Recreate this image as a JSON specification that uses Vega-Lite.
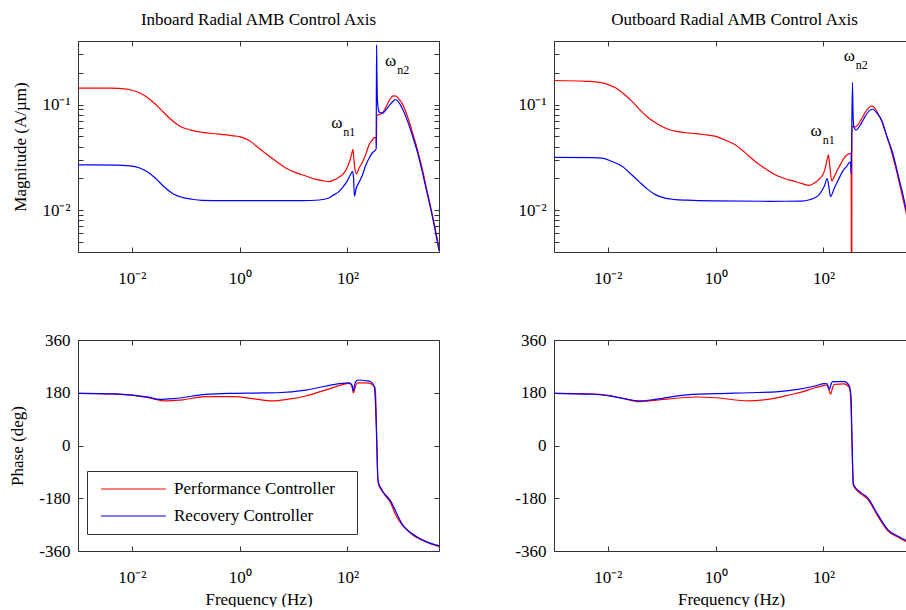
{
"$schema":"https://vega.github.io/schema/vega-lite/v6.json",
"background":"white",
"autosize":{"type":"pad"},
"padding":{"left":8,"top":11,"right":0,"bottom":0},
"datasets":{
"inMag":[
{"f":0.001,"s":"Performance Controller","v":0.143},{"f":0.004,"s":"Performance Controller","v":0.143},{"f":0.008,"s":"Performance Controller","v":0.140},{"f":0.012,"s":"Performance Controller","v":0.133},{"f":0.018,"s":"Performance Controller","v":0.120},{"f":0.025,"s":"Performance Controller","v":0.105},{"f":0.035,"s":"Performance Controller","v":0.089},{"f":0.05,"s":"Performance Controller","v":0.074},{"f":0.075,"s":"Performance Controller","v":0.063},{"f":0.12,"s":"Performance Controller","v":0.0575},{"f":0.2,"s":"Performance Controller","v":0.0545},{"f":0.4,"s":"Performance Controller","v":0.0525},{"f":0.7,"s":"Performance Controller","v":0.0508},{"f":1.0,"s":"Performance Controller","v":0.0496},{"f":1.5,"s":"Performance Controller","v":0.0455},{"f":2.0,"s":"Performance Controller","v":0.0407},{"f":3.0,"s":"Performance Controller","v":0.0345},{"f":4.6,"s":"Performance Controller","v":0.0293},{"f":7,"s":"Performance Controller","v":0.0252},{"f":11,"s":"Performance Controller","v":0.0226},{"f":17,"s":"Performance Controller","v":0.021},{"f":25,"s":"Performance Controller","v":0.0196},{"f":35,"s":"Performance Controller","v":0.019},{"f":46,"s":"Performance Controller","v":0.0186},{"f":53,"s":"Performance Controller","v":0.019},{"f":70,"s":"Performance Controller","v":0.0205},{"f":93,"s":"Performance Controller","v":0.0237},{"f":110,"s":"Performance Controller","v":0.029},{"f":120,"s":"Performance Controller","v":0.034},{"f":127,"s":"Performance Controller","v":0.0375},{"f":131,"s":"Performance Controller","v":0.031},{"f":137,"s":"Performance Controller","v":0.025},{"f":147,"s":"Performance Controller","v":0.022},{"f":165,"s":"Performance Controller","v":0.025},{"f":190,"s":"Performance Controller","v":0.0284},{"f":220,"s":"Performance Controller","v":0.034},{"f":252,"s":"Performance Controller","v":0.0416},{"f":290,"s":"Performance Controller","v":0.046},{"f":312,"s":"Performance Controller","v":0.0485},{"f":340,"s":"Performance Controller","v":0.0488},{"f":345,"s":"Performance Controller","v":0.041},{"f":350,"s":"Performance Controller","v":0.079},{"f":387,"s":"Performance Controller","v":0.0803},{"f":445,"s":"Performance Controller","v":0.083},{"f":520,"s":"Performance Controller","v":0.095},{"f":600,"s":"Performance Controller","v":0.11},{"f":711,"s":"Performance Controller","v":0.121},{"f":800,"s":"Performance Controller","v":0.12},{"f":900,"s":"Performance Controller","v":0.113},{"f":1044,"s":"Performance Controller","v":0.102},{"f":1300,"s":"Performance Controller","v":0.077},{"f":1600,"s":"Performance Controller","v":0.055},{"f":2000,"s":"Performance Controller","v":0.037},{"f":2450,"s":"Performance Controller","v":0.0245},{"f":3000,"s":"Performance Controller","v":0.0152},{"f":3750,"s":"Performance Controller","v":0.0091},{"f":5000,"s":"Performance Controller","v":0.0044},
{"f":0.001,"s":"Recovery Controller","v":0.0268},{"f":0.005,"s":"Recovery Controller","v":0.0266},{"f":0.009,"s":"Recovery Controller","v":0.0262},{"f":0.014,"s":"Recovery Controller","v":0.025},{"f":0.02,"s":"Recovery Controller","v":0.0228},{"f":0.028,"s":"Recovery Controller","v":0.0198},{"f":0.04,"s":"Recovery Controller","v":0.0165},{"f":0.06,"s":"Recovery Controller","v":0.0141},{"f":0.09,"s":"Recovery Controller","v":0.0131},{"f":0.13,"s":"Recovery Controller","v":0.01265},{"f":0.2,"s":"Recovery Controller","v":0.01236},{"f":0.5,"s":"Recovery Controller","v":0.0123},{"f":1,"s":"Recovery Controller","v":0.0123},{"f":5,"s":"Recovery Controller","v":0.0123},{"f":15,"s":"Recovery Controller","v":0.0123},{"f":30,"s":"Recovery Controller","v":0.01245},{"f":45,"s":"Recovery Controller","v":0.013},{"f":53,"s":"Recovery Controller","v":0.0137},{"f":70,"s":"Recovery Controller","v":0.015},{"f":81,"s":"Recovery Controller","v":0.0163},{"f":100,"s":"Recovery Controller","v":0.019},{"f":113,"s":"Recovery Controller","v":0.0215},{"f":124,"s":"Recovery Controller","v":0.0232},{"f":130,"s":"Recovery Controller","v":0.02},{"f":135,"s":"Recovery Controller","v":0.0135},{"f":145,"s":"Recovery Controller","v":0.016},{"f":165,"s":"Recovery Controller","v":0.0184},{"f":190,"s":"Recovery Controller","v":0.0215},{"f":218,"s":"Recovery Controller","v":0.0264},{"f":252,"s":"Recovery Controller","v":0.031},{"f":290,"s":"Recovery Controller","v":0.0349},{"f":326,"s":"Recovery Controller","v":0.0367},{"f":341,"s":"Recovery Controller","v":0.038},{"f":347,"s":"Recovery Controller","v":0.367},{"f":352,"s":"Recovery Controller","v":0.2},{"f":360,"s":"Recovery Controller","v":0.11},{"f":375,"s":"Recovery Controller","v":0.09},{"f":387,"s":"Recovery Controller","v":0.085},{"f":445,"s":"Recovery Controller","v":0.0827},{"f":520,"s":"Recovery Controller","v":0.089},{"f":600,"s":"Recovery Controller","v":0.098},{"f":711,"s":"Recovery Controller","v":0.108},{"f":780,"s":"Recovery Controller","v":0.1116},{"f":900,"s":"Recovery Controller","v":0.105},{"f":1044,"s":"Recovery Controller","v":0.0916},{"f":1300,"s":"Recovery Controller","v":0.07},{"f":1600,"s":"Recovery Controller","v":0.051},{"f":2000,"s":"Recovery Controller","v":0.035},{"f":2450,"s":"Recovery Controller","v":0.0229},{"f":3000,"s":"Recovery Controller","v":0.0145},{"f":3750,"s":"Recovery Controller","v":0.0088},{"f":5000,"s":"Recovery Controller","v":0.0041}],
"outMag":[
{"f":0.001,"s":"Performance Controller","v":0.169},{"f":0.004,"s":"Performance Controller","v":0.166},{"f":0.0059,"s":"Performance Controller","v":0.164},{"f":0.009,"s":"Performance Controller","v":0.158},{"f":0.0138,"s":"Performance Controller","v":0.144},{"f":0.02,"s":"Performance Controller","v":0.125},{"f":0.0281,"s":"Performance Controller","v":0.107},{"f":0.04,"s":"Performance Controller","v":0.088},{"f":0.0571,"s":"Performance Controller","v":0.0746},{"f":0.09,"s":"Performance Controller","v":0.064},{"f":0.134,"s":"Performance Controller","v":0.058},{"f":0.2,"s":"Performance Controller","v":0.0553},{"f":0.313,"s":"Performance Controller","v":0.0537},{"f":0.6,"s":"Performance Controller","v":0.052},{"f":0.97,"s":"Performance Controller","v":0.0501},{"f":1.5,"s":"Performance Controller","v":0.046},{"f":2.27,"s":"Performance Controller","v":0.0417},{"f":3.5,"s":"Performance Controller","v":0.035},{"f":5.32,"s":"Performance Controller","v":0.029},{"f":8,"s":"Performance Controller","v":0.025},{"f":12.4,"s":"Performance Controller","v":0.0217},{"f":20,"s":"Performance Controller","v":0.0197},{"f":29.1,"s":"Performance Controller","v":0.0187},{"f":38.7,"s":"Performance Controller","v":0.0179},{"f":55,"s":"Performance Controller","v":0.0171},{"f":70,"s":"Performance Controller","v":0.0182},{"f":85,"s":"Performance Controller","v":0.0198},{"f":104,"s":"Performance Controller","v":0.0234},{"f":117,"s":"Performance Controller","v":0.03},{"f":124,"s":"Performance Controller","v":0.0333},{"f":130,"s":"Performance Controller","v":0.027},{"f":143,"s":"Performance Controller","v":0.0188},{"f":160,"s":"Performance Controller","v":0.021},{"f":184,"s":"Performance Controller","v":0.0243},{"f":215,"s":"Performance Controller","v":0.028},{"f":244,"s":"Performance Controller","v":0.0314},{"f":290,"s":"Performance Controller","v":0.034},{"f":318,"s":"Performance Controller","v":0.0345},{"f":326,"s":"Performance Controller","v":0.034},{"f":333,"s":"Performance Controller","v":0.0001},{"f":337,"s":"Performance Controller","v":0.0626},{"f":360,"s":"Performance Controller","v":0.0615},{"f":402,"s":"Performance Controller","v":0.0618},{"f":500,"s":"Performance Controller","v":0.072},{"f":600,"s":"Performance Controller","v":0.085},{"f":700,"s":"Performance Controller","v":0.094},{"f":783,"s":"Performance Controller","v":0.097},{"f":900,"s":"Performance Controller","v":0.092},{"f":1000,"s":"Performance Controller","v":0.084},{"f":1164,"s":"Performance Controller","v":0.0726},{"f":1400,"s":"Performance Controller","v":0.055},{"f":1778,"s":"Performance Controller","v":0.0377},{"f":2200,"s":"Performance Controller","v":0.025},{"f":2725,"s":"Performance Controller","v":0.0157},{"f":3513,"s":"Performance Controller","v":0.0088},{"f":5000,"s":"Performance Controller","v":0.0042},
{"f":0.001,"s":"Recovery Controller","v":0.0316},{"f":0.005,"s":"Recovery Controller","v":0.0314},{"f":0.00785,"s":"Recovery Controller","v":0.0311},{"f":0.012,"s":"Recovery Controller","v":0.0288},{"f":0.0184,"s":"Recovery Controller","v":0.026},{"f":0.026,"s":"Recovery Controller","v":0.0222},{"f":0.0374,"s":"Recovery Controller","v":0.0187},{"f":0.055,"s":"Recovery Controller","v":0.0157},{"f":0.0757,"s":"Recovery Controller","v":0.014},{"f":0.12,"s":"Recovery Controller","v":0.0129},{"f":0.177,"s":"Recovery Controller","v":0.01256},{"f":0.3,"s":"Recovery Controller","v":0.0124},{"f":0.48,"s":"Recovery Controller","v":0.0123},{"f":1,"s":"Recovery Controller","v":0.0122},{"f":10,"s":"Recovery Controller","v":0.0121},{"f":38.7,"s":"Recovery Controller","v":0.01216},{"f":55,"s":"Recovery Controller","v":0.0125},{"f":78.8,"s":"Recovery Controller","v":0.0136},{"f":95,"s":"Recovery Controller","v":0.0155},{"f":104,"s":"Recovery Controller","v":0.0169},{"f":117,"s":"Recovery Controller","v":0.0199},{"f":125,"s":"Recovery Controller","v":0.017},{"f":135,"s":"Recovery Controller","v":0.0134},{"f":160,"s":"Recovery Controller","v":0.0163},{"f":190,"s":"Recovery Controller","v":0.0195},{"f":228,"s":"Recovery Controller","v":0.0234},{"f":270,"s":"Recovery Controller","v":0.026},{"f":302,"s":"Recovery Controller","v":0.0282},{"f":318,"s":"Recovery Controller","v":0.0285},{"f":326,"s":"Recovery Controller","v":0.0218},{"f":345,"s":"Recovery Controller","v":0.162},{"f":352,"s":"Recovery Controller","v":0.09},{"f":365,"s":"Recovery Controller","v":0.062},{"f":402,"s":"Recovery Controller","v":0.0574},{"f":500,"s":"Recovery Controller","v":0.066},{"f":600,"s":"Recovery Controller","v":0.078},{"f":700,"s":"Recovery Controller","v":0.087},{"f":817,"s":"Recovery Controller","v":0.0902},{"f":1000,"s":"Recovery Controller","v":0.082},{"f":1250,"s":"Recovery Controller","v":0.0675},{"f":1500,"s":"Recovery Controller","v":0.05},{"f":1914,"s":"Recovery Controller","v":0.0351},{"f":2400,"s":"Recovery Controller","v":0.022},{"f":2924,"s":"Recovery Controller","v":0.0146},{"f":3513,"s":"Recovery Controller","v":0.0095},{"f":5000,"s":"Recovery Controller","v":0.0045}],
"inPh":[
{"f":0.001,"s":"Performance Controller","v":178},{"f":0.004,"s":"Performance Controller","v":176},{"f":0.01,"s":"Performance Controller","v":172},{"f":0.02,"s":"Performance Controller","v":163},{"f":0.0432,"s":"Performance Controller","v":152},{"f":0.08,"s":"Performance Controller","v":155},{"f":0.236,"s":"Performance Controller","v":166.5},{"f":0.74,"s":"Performance Controller","v":166.5},{"f":2.0,"s":"Performance Controller","v":158},{"f":4.0,"s":"Performance Controller","v":152},{"f":8,"s":"Performance Controller","v":158},{"f":16.9,"s":"Performance Controller","v":169},{"f":40,"s":"Performance Controller","v":190},{"f":81,"s":"Performance Controller","v":208},{"f":107,"s":"Performance Controller","v":212},{"f":120,"s":"Performance Controller","v":205},{"f":129,"s":"Performance Controller","v":180},{"f":140,"s":"Performance Controller","v":200},{"f":152,"s":"Performance Controller","v":214},{"f":200,"s":"Performance Controller","v":214},{"f":252,"s":"Performance Controller","v":212.6},{"f":300,"s":"Performance Controller","v":205},{"f":326,"s":"Performance Controller","v":197},{"f":338,"s":"Performance Controller","v":140},{"f":350,"s":"Performance Controller","v":20},{"f":365,"s":"Performance Controller","v":-110},{"f":380,"s":"Performance Controller","v":-135},{"f":414,"s":"Performance Controller","v":-148},{"f":500,"s":"Performance Controller","v":-170},{"f":630,"s":"Performance Controller","v":-195},{"f":800,"s":"Performance Controller","v":-240},{"f":1044,"s":"Performance Controller","v":-272},{"f":1400,"s":"Performance Controller","v":-295},{"f":1842,"s":"Performance Controller","v":-312},{"f":2800,"s":"Performance Controller","v":-328},{"f":5000,"s":"Performance Controller","v":-345},
{"f":0.001,"s":"Recovery Controller","v":178},{"f":0.005,"s":"Recovery Controller","v":176},{"f":0.01,"s":"Recovery Controller","v":172},{"f":0.02,"s":"Recovery Controller","v":165},{"f":0.0326,"s":"Recovery Controller","v":157.5},{"f":0.06,"s":"Recovery Controller","v":160},{"f":0.236,"s":"Recovery Controller","v":174.5},{"f":0.74,"s":"Recovery Controller","v":178},{"f":2.0,"s":"Recovery Controller","v":179},{"f":5,"s":"Recovery Controller","v":180},{"f":16.9,"s":"Recovery Controller","v":189},{"f":40,"s":"Recovery Controller","v":203},{"f":70,"s":"Recovery Controller","v":211},{"f":107,"s":"Recovery Controller","v":214},{"f":120,"s":"Recovery Controller","v":208},{"f":129,"s":"Recovery Controller","v":186},{"f":135,"s":"Recovery Controller","v":205},{"f":145,"s":"Recovery Controller","v":220},{"f":163,"s":"Recovery Controller","v":223.5},{"f":220,"s":"Recovery Controller","v":221},{"f":270,"s":"Recovery Controller","v":217.7},{"f":312,"s":"Recovery Controller","v":203},{"f":334,"s":"Recovery Controller","v":129},{"f":349,"s":"Recovery Controller","v":15},{"f":370,"s":"Recovery Controller","v":-121},{"f":414,"s":"Recovery Controller","v":-144},{"f":630,"s":"Recovery Controller","v":-189},{"f":1044,"s":"Recovery Controller","v":-269},{"f":1842,"s":"Recovery Controller","v":-309},{"f":2800,"s":"Recovery Controller","v":-327},{"f":5000,"s":"Recovery Controller","v":-342}],
"outPh":[
{"f":0.001,"s":"Performance Controller","v":178},{"f":0.005,"s":"Performance Controller","v":176},{"f":0.01,"s":"Performance Controller","v":171},{"f":0.02,"s":"Performance Controller","v":160},{"f":0.0374,"s":"Performance Controller","v":150},{"f":0.08,"s":"Performance Controller","v":155},{"f":0.235,"s":"Performance Controller","v":163},{"f":0.415,"s":"Performance Controller","v":165.5},{"f":1.0,"s":"Performance Controller","v":163},{"f":4.0,"s":"Performance Controller","v":152},{"f":10,"s":"Performance Controller","v":158},{"f":25.4,"s":"Performance Controller","v":174},{"f":38.7,"s":"Performance Controller","v":182},{"f":70,"s":"Performance Controller","v":197},{"f":104,"s":"Performance Controller","v":205},{"f":112,"s":"Performance Controller","v":206.5},{"f":124,"s":"Performance Controller","v":195},{"f":135,"s":"Performance Controller","v":175},{"f":149,"s":"Performance Controller","v":200},{"f":160,"s":"Performance Controller","v":208.8},{"f":244,"s":"Performance Controller","v":210},{"f":302,"s":"Performance Controller","v":197},{"f":318,"s":"Performance Controller","v":170},{"f":330,"s":"Performance Controller","v":80},{"f":345,"s":"Performance Controller","v":-60},{"f":358,"s":"Performance Controller","v":-135},{"f":400,"s":"Performance Controller","v":-150},{"f":496,"s":"Performance Controller","v":-165},{"f":660,"s":"Performance Controller","v":-183},{"f":1011,"s":"Performance Controller","v":-240},{"f":1548,"s":"Performance Controller","v":-290},{"f":2723,"s":"Performance Controller","v":-318},{"f":3516,"s":"Performance Controller","v":-329},{"f":5000,"s":"Performance Controller","v":-347},
{"f":0.001,"s":"Recovery Controller","v":178},{"f":0.0051,"s":"Recovery Controller","v":174.8},{"f":0.01,"s":"Recovery Controller","v":170},{"f":0.02,"s":"Recovery Controller","v":160},{"f":0.0374,"s":"Recovery Controller","v":152},{"f":0.08,"s":"Recovery Controller","v":158},{"f":0.235,"s":"Recovery Controller","v":171.3},{"f":1.0,"s":"Recovery Controller","v":177},{"f":4.0,"s":"Recovery Controller","v":180},{"f":15,"s":"Recovery Controller","v":184},{"f":33.7,"s":"Recovery Controller","v":191.7},{"f":70,"s":"Recovery Controller","v":203},{"f":104,"s":"Recovery Controller","v":211},{"f":117,"s":"Recovery Controller","v":210},{"f":129,"s":"Recovery Controller","v":191.7},{"f":140,"s":"Recovery Controller","v":212},{"f":149,"s":"Recovery Controller","v":217.7},{"f":244,"s":"Recovery Controller","v":217.7},{"f":302,"s":"Recovery Controller","v":203},{"f":325,"s":"Recovery Controller","v":163},{"f":339,"s":"Recovery Controller","v":15},{"f":358,"s":"Recovery Controller","v":-132},{"f":496,"s":"Recovery Controller","v":-161},{"f":660,"s":"Recovery Controller","v":-178},{"f":1011,"s":"Recovery Controller","v":-235},{"f":1548,"s":"Recovery Controller","v":-286},{"f":2723,"s":"Recovery Controller","v":-314.6},{"f":3516,"s":"Recovery Controller","v":-326},{"f":5000,"s":"Recovery Controller","v":-344}],
"inAnn":[{"f":63.4,"m":0.0664,"sym":"ω","sub":"n1"},{"f":634,"m":0.2596,"sym":"ω","sub":"n2"}],
"outAnn":[{"f":73.3,"m":0.0562,"sym":"ω","sub":"n1"},{"f":302,"m":0.287,"sym":"ω","sub":"n2"}]
},
"columns":2,
"spacing":{"row":88,"column":115},
"bounds":"flush",
"resolve":{"scale":{"color":"independent"},"legend":{"color":"independent"}},
"concat":[
{"title":{"text":"Inboard Radial AMB Control Axis"},
 "width":361,"height":211,
 "layer":[
  {"data":{"name":"inMag"},"mark":{"type":"line","clip":true,"strokeWidth":1.2,"interpolate":"monotone"},
   "encoding":{
    "x":{"field":"f","type":"quantitative","scale":{"type":"log","domain":[0.001,5000],"nice":false},"axis":{"title":null,"values":[0.01,1,100],"labelExpr":"datum.value==0.01?'10⁻²':datum.value==1?'10⁰':'10²'"}},
    "y":{"field":"v","type":"quantitative","scale":{"type":"log","domain":[0.004,0.4],"nice":false},"axis":{"title":"Magnitude (A/µm)","values":[0.004,0.005,0.006,0.007,0.008,0.009,0.01,0.02,0.03,0.04,0.05,0.06,0.07,0.08,0.09,0.1,0.2,0.3,0.4],"labelExpr":"datum.value==0.1?'10⁻¹':datum.value==0.01?'10⁻²':''"}},
    "color":{"field":"s","type":"nominal","scale":{"domain":["Performance Controller","Recovery Controller"],"range":["#ff0000","#0000ff"]},"legend":null}}},
  {"data":{"name":"inAnn"},"mark":{"type":"text","fontSize":17},
   "encoding":{
    "x":{"field":"f","type":"quantitative","axis":{"orient":"top","labels":false,"title":null,"values":[0.01,1,100]}},
    "y":{"field":"m","type":"quantitative","axis":{"orient":"right","labels":false,"title":null,"values":[0.004,0.005,0.006,0.007,0.008,0.009,0.01,0.02,0.03,0.04,0.05,0.06,0.07,0.08,0.09,0.1,0.2,0.3,0.4]}},
    "text":{"field":"sym"}}},
  {"data":{"name":"inAnn"},"mark":{"type":"text","fontSize":12,"dx":12.5,"dy":9},
   "encoding":{
    "x":{"field":"f","type":"quantitative","axis":null},
    "y":{"field":"m","type":"quantitative","axis":null},
    "text":{"field":"sub"}}}
 ],
 "resolve":{"axis":{"x":"independent","y":"independent"}}},
{"title":{"text":"Outboard Radial AMB Control Axis","dx":3.5},
 "width":354,"height":211,
 "layer":[
  {"data":{"name":"outMag"},"mark":{"type":"line","clip":true,"strokeWidth":1.2,"interpolate":"monotone"},
   "encoding":{
    "x":{"field":"f","type":"quantitative","scale":{"type":"log","domain":[0.001,3700],"nice":false},"axis":{"title":null,"values":[0.01,1,100],"labelExpr":"datum.value==0.01?'10⁻²':datum.value==1?'10⁰':'10²'"}},
    "y":{"field":"v","type":"quantitative","scale":{"type":"log","domain":[0.004,0.4],"nice":false},"axis":{"title":null,"values":[0.004,0.005,0.006,0.007,0.008,0.009,0.01,0.02,0.03,0.04,0.05,0.06,0.07,0.08,0.09,0.1,0.2,0.3,0.4],"labelExpr":"datum.value==0.1?'10⁻¹':datum.value==0.01?'10⁻²':''"}},
    "color":{"field":"s","type":"nominal","scale":{"domain":["Performance Controller","Recovery Controller"],"range":["#ff0000","#0000ff"]},"legend":null}}},
  {"data":{"name":"outAnn"},"mark":{"type":"text","fontSize":17},
   "encoding":{
    "x":{"field":"f","type":"quantitative","axis":{"orient":"top","labels":false,"title":null,"values":[0.01,1,100]}},
    "y":{"field":"m","type":"quantitative","axis":null},
    "text":{"field":"sym"}}},
  {"data":{"name":"outAnn"},"mark":{"type":"text","fontSize":12,"dx":12.5,"dy":9},
   "encoding":{
    "x":{"field":"f","type":"quantitative","axis":null},
    "y":{"field":"m","type":"quantitative","axis":null},
    "text":{"field":"sub"}}}
 ],
 "resolve":{"axis":{"x":"independent","y":"independent"}}},
{"width":361,"height":211,
 "layer":[
  {"data":{"name":"inPh"},"mark":{"type":"line","clip":true,"strokeWidth":1.2,"interpolate":"monotone"},
   "encoding":{
    "x":{"field":"f","type":"quantitative","scale":{"type":"log","domain":[0.001,5000],"nice":false},"axis":{"title":"Frequency (Hz)","values":[0.01,1,100],"labelExpr":"datum.value==0.01?'10⁻²':datum.value==1?'10⁰':'10²'"}},
    "y":{"field":"v","type":"quantitative","scale":{"domain":[-360,360],"nice":false,"zero":false},"axis":{"title":"Phase (deg)","values":[-360,-180,0,180,360],"labelExpr":"datum.value+''"}},
    "color":{"field":"s","type":"nominal","scale":{"domain":["Performance Controller","Recovery Controller"],"range":["#ff0000","#0000ff"]},
     "legend":{"orient":"none","legendX":9,"legendY":131,"title":null,"symbolType":"stroke","symbolSize":4225,"symbolStrokeWidth":1.2,"clipHeight":18,"symbolOffset":4,"labelOffset":7,"labelFontSize":17,"labelFont":"Liberation Serif","labelColor":"#000","padding":9,"rowPadding":9,"strokeColor":"#333333","fillColor":"white","labelLimit":400,"labelExpr":"datum.label+'\u00a0\u00a0\u00a0\u200b'"}}}},
  {"data":{"name":"inPh"},"mark":{"type":"line","strokeOpacity":0},
   "encoding":{
    "x":{"field":"f","type":"quantitative","axis":{"orient":"top","labels":false,"title":null,"values":[0.01,1,100]}},
    "y":{"field":"v","type":"quantitative","axis":{"orient":"right","labels":false,"title":null,"values":[-360,-180,0,180,360]}},
    "detail":{"field":"s"}}}
 ],
 "resolve":{"axis":{"x":"independent","y":"independent"}}},
{"width":354,"height":211,
 "layer":[
  {"data":{"name":"outPh"},"mark":{"type":"line","clip":true,"strokeWidth":1.2,"interpolate":"monotone"},
   "encoding":{
    "x":{"field":"f","type":"quantitative","scale":{"type":"log","domain":[0.001,3700],"nice":false},"axis":{"title":"Frequency (Hz)","values":[0.01,1,100],"labelExpr":"datum.value==0.01?'10⁻²':datum.value==1?'10⁰':'10²'"}},
    "y":{"field":"v","type":"quantitative","scale":{"domain":[-360,360],"nice":false,"zero":false},"axis":{"title":null,"values":[-360,-180,0,180,360],"labelExpr":"datum.value+''"}},
    "color":{"field":"s","type":"nominal","scale":{"domain":["Performance Controller","Recovery Controller"],"range":["#ff0000","#0000ff"]},"legend":null}}},
  {"data":{"name":"outPh"},"mark":{"type":"line","strokeOpacity":0,"clip":true},
   "encoding":{
    "x":{"field":"f","type":"quantitative","axis":{"orient":"top","labels":false,"title":null,"values":[0.01,1,100]}},
    "y":{"field":"v","type":"quantitative","axis":null},
    "detail":{"field":"s"}}}
 ],
 "resolve":{"axis":{"x":"independent","y":"independent"}}}
],
"config":{
 "font":"Liberation Serif",
 "view":{"stroke":null},
 "axis":{"labelFont":"Liberation Serif","labelFontSize":17,"labelColor":"#000","titleFont":"Liberation Serif","titleFontSize":17,"titleFontWeight":"normal","titleColor":"#000","domainColor":"#333333","tickColor":"#333333","domainWidth":1,"tickWidth":1,"tickSize":-5,"grid":false,"labelFlush":false,"labelOverlap":false},
 "axisX":{"labelPadding":23,"titlePadding":6},
 "axisY":{"labelPadding":13,"titlePadding":12},
 "title":{"font":"Liberation Serif","fontSize":17,"fontWeight":"normal","color":"#000","offset":3,"anchor":"middle"},
 "text":{"font":"Liberation Serif","color":"#000"}
}
}
